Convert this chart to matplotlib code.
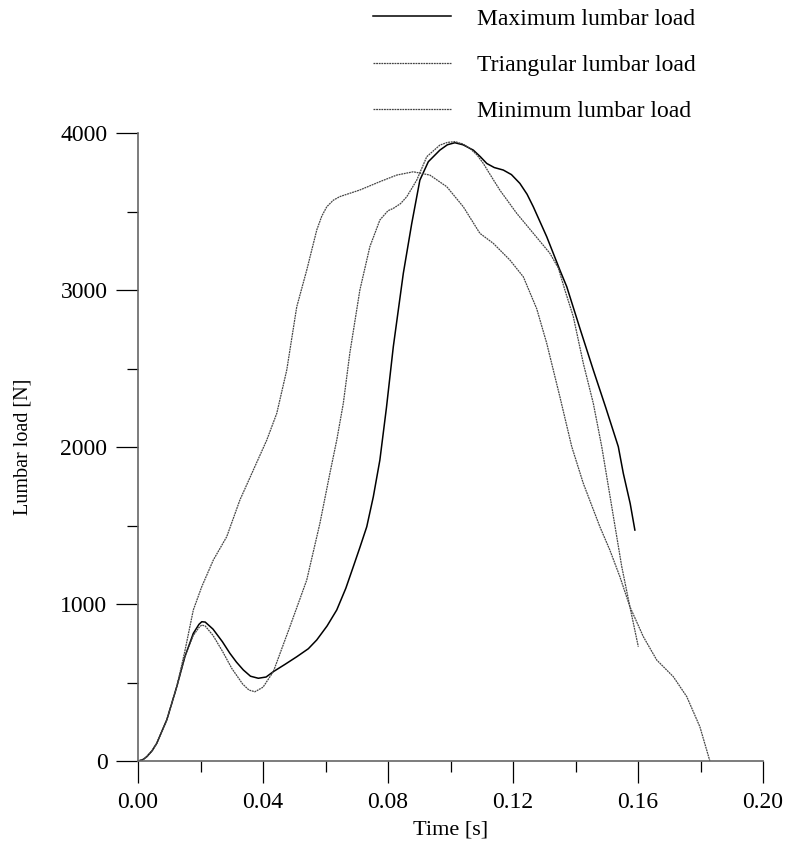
import numpy as np
import matplotlib
matplotlib.use("Agg")
import matplotlib.pyplot as plt
from matplotlib.ticker import MultipleLocator, FormatStrFormatter

# values (time in s, load in N)
t_max = [0.0, 0.0015, 0.0028, 0.0045, 0.006, 0.0092, 0.0124, 0.015, 0.0177, 0.0195,
         0.0204, 0.0215, 0.024, 0.027, 0.0294, 0.0315, 0.0337, 0.036, 0.0385, 0.041,
         0.0433, 0.047, 0.0508, 0.0545, 0.0572, 0.0605, 0.0636, 0.0665, 0.0689, 0.071,
         0.0732, 0.0753, 0.0774, 0.0795, 0.0817, 0.0849, 0.0876, 0.0902, 0.0929, 0.0966,
         0.099, 0.1014, 0.104, 0.1073, 0.1095, 0.1116, 0.114, 0.1169, 0.1195, 0.1222,
         0.1245, 0.1265, 0.1308, 0.135, 0.1372, 0.1415, 0.1457, 0.1497, 0.1537, 0.1553,
         0.1575, 0.159]
load_max = [0, 8, 27, 65, 113, 261, 473, 664, 813, 870,
            887, 885, 840, 760, 686, 630, 580, 540, 527, 535,
            569, 615, 664, 715, 771, 860, 962, 1100, 1238, 1360,
            1492, 1683, 1917, 2250, 2639, 3106, 3424, 3700, 3817, 3891,
            3925, 3938, 3925, 3891, 3850, 3806, 3780, 3764, 3735, 3679,
            3610, 3530, 3339, 3127, 3021, 2750, 2490, 2250, 2002, 1832,
            1640, 1471]

t_tri = [0.0, 0.0015, 0.0028, 0.0045, 0.006, 0.0092, 0.0124, 0.015, 0.0177, 0.0195,
         0.0204, 0.0215, 0.024, 0.027, 0.03, 0.0335, 0.0355, 0.0374, 0.040, 0.0433,
         0.0486, 0.054, 0.0582, 0.0614, 0.0636, 0.0657, 0.0678, 0.071, 0.0742, 0.0774,
         0.08, 0.0817, 0.084, 0.086, 0.0892, 0.0924, 0.0966, 0.099, 0.1014, 0.104,
         0.1062, 0.1085, 0.1105, 0.113, 0.1158, 0.1212, 0.1265, 0.1318, 0.1345, 0.1366,
         0.1393, 0.1425, 0.1457, 0.1484, 0.1516, 0.1548, 0.1574, 0.1601]
load_tri = [0, 8, 27, 65, 113, 261, 473, 664, 800, 850,
            866, 860, 800, 700, 590, 490, 452, 441, 470, 569,
            855, 1153, 1513, 1832, 2044, 2278, 2600, 3000, 3276, 3446,
            3505, 3520, 3550, 3594, 3700, 3849, 3923, 3940, 3945, 3930,
            3902, 3860, 3806, 3725, 3636, 3488, 3361, 3234, 3140, 3000,
            2830, 2533, 2278, 2002, 1620, 1238, 983, 728]

t_min = [0.0, 0.0015, 0.0028, 0.0045, 0.006, 0.0092, 0.0124, 0.015, 0.0177, 0.0204,
         0.0241, 0.0284, 0.0326, 0.0369, 0.0412, 0.0444, 0.0476, 0.0508, 0.054, 0.0572,
         0.0588, 0.0604, 0.0625, 0.0646, 0.071, 0.0774, 0.0828, 0.0881, 0.0934, 0.0988,
         0.1041, 0.1094, 0.1137, 0.119, 0.1233, 0.1276, 0.1308, 0.135, 0.1388, 0.1425,
         0.1478, 0.151, 0.1542, 0.1574, 0.1617, 0.166, 0.1713, 0.1756, 0.1798, 0.183]
load_min = [0, 8, 27, 65, 113, 261, 473, 700, 962, 1110,
            1280, 1429, 1662, 1853, 2044, 2214, 2490, 2893, 3127, 3382,
            3470, 3530, 3572, 3595, 3637, 3690, 3732, 3753, 3732, 3658,
            3530, 3361, 3297, 3191, 3084, 2880, 2660, 2320, 2002, 1768,
            1492, 1343, 1174, 983, 792, 643, 537, 410, 218, 0]

labels = ["Maximum lumbar load", "Triangular lumbar load", "Minimum lumbar load"]

plt.rcParams['font.family'] = ['Liberation Serif', 'DejaVu Serif']

fig = plt.figure(figsize=(7.89, 8.46), dpi=100)
ax = fig.add_axes([138 / 789, 85 / 846, 625 / 789, 628 / 846])

dot = (0, (1.5, 0.6))
ax.plot(t_max, load_max, color='black', lw=1.1, label=labels[0])
ax.plot(t_tri, load_tri, color='#444444', lw=0.9, ls=dot, label=labels[1])
ax.plot(t_min, load_min, color='#444444', lw=0.9, ls=dot, label=labels[2])

ax.set_xlim(0, 0.2)
ax.set_ylim(0, 4000)
ax.xaxis.set_major_locator(MultipleLocator(0.04))
ax.xaxis.set_minor_locator(MultipleLocator(0.02))
ax.xaxis.set_major_formatter(FormatStrFormatter('%.2f'))
ax.yaxis.set_major_locator(MultipleLocator(1000))
ax.yaxis.set_minor_locator(MultipleLocator(500))

for side in ['top', 'right']:
    ax.spines[side].set_visible(False)
for side in ['left', 'bottom']:
    ax.spines[side].set_color('#666666')
    ax.spines[side].set_linewidth(1.2)

ax.tick_params(which='major', direction='out', length=16, width=0.9, pad=6,
               labelsize=17, color='black')
ax.tick_params(which='minor', direction='out', length=8, width=0.9, color='black')

ax.set_xlabel("Time [s]", fontsize=16, labelpad=6)
ax.set_ylabel("Lumbar load [N]", fontsize=14.5, labelpad=20)

ax.legend(loc='upper left', bbox_to_anchor=(373 / 789, 1 - 8 / 846),
          bbox_transform=fig.transFigure, frameon=False, fontsize=17,
          handlelength=3.3, handletextpad=1.1, labelspacing=1.05, borderpad=0,
          borderaxespad=0)

fig.savefig("out.png", dpi=100)
